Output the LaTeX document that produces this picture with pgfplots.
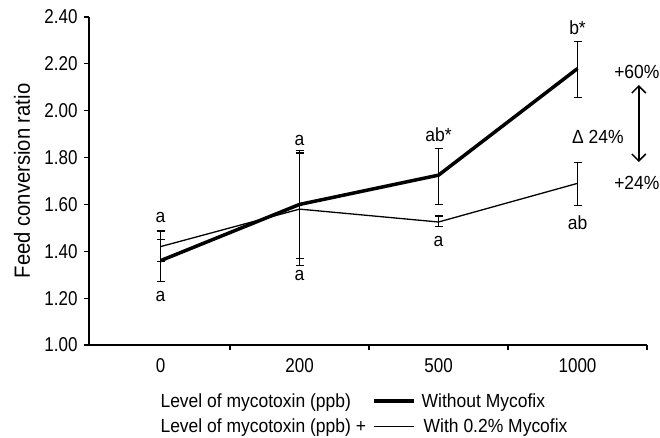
\documentclass[border=0pt]{standalone}
\usepackage{fontspec}
\setmainfont{Liberation Sans}[FakeStretch=0.92]
\newfontfamily\tickfont{Liberation Sans}[FakeStretch=0.85]
\usepackage{pgfplots}
\pgfplotsset{compat=1.18}
\usetikzlibrary{arrows.meta}
\begin{document}
\fontsize{19pt}{22pt}\selectfont
\begin{tikzpicture}
\path[use as bounding box] (-89pt,-92pt) rectangle (571pt,345pt);
\begin{axis}[
  at={(0,0)}, anchor=south west,
  scale only axis, width=558pt, height=328pt,
  xmin=-0.515, xmax=3.5, ymin=1, ymax=2.4,
  axis x line*=bottom, axis y line*=left,
  xtick pos=left, ytick pos=left,
  axis line style={line width=1.5pt},
  tick align=outside,
  tick style={black, line width=1.2pt},
  xtick={0.5,1.5,2.5,3.5}, xticklabels={},
  major tick length=5pt,
  extra x ticks={0,1,2,3}, extra x tick labels={0,200,500,1000},
  extra x tick style={major tick length=0pt},
  ytick={1,1.2,...,2.41},
  /pgf/number format/assume math mode=true,
  tick label style={font=\tickfont\fontsize{20pt}{24pt}\selectfont},
  yticklabel style={/pgf/number format/.cd, fixed, fixed zerofill, precision=2},
  xticklabel style={yshift=-7pt},
  ylabel={\fontsize{22pt}{26pt}\selectfont Feed conversion ratio},
  every axis y label/.style={at={([xshift=-67pt]axis description cs:0,0.5)}, rotate=90, anchor=center},
  clip=false,
  legend style={at={([xshift=283pt,yshift=-47.5pt]axis description cs:0,0)}, anchor=north west,
    draw=none, fill=none, inner sep=0pt, row sep=8pt,
    nodes={inner sep=2pt, text height=13pt, text depth=0pt, anchor=west}},
  legend image code/.code={\draw[#1] (0pt,0pt) -- (40pt,0pt);},
]
\addplot[black, line width=3.5pt, no markers,
  error bars/.cd, y dir=both, y explicit,
  error bar style={line width=1.3pt},
  error mark options={line width=1.3pt, mark size=4pt, rotate=90}]
coordinates {
 (0,1.36) += (0,0.09) -= (0,0.09)
 (1,1.60) += (0,0.23) -= (0,0.23)
 (2,1.725) += (0,0.115) -= (0,0.125)
 (3,2.18) += (0,0.115) -= (0,0.125)
};
\addlegendentry{\hspace{4pt}Without Mycofix}
\addplot[black, line width=1.3pt, no markers,
  error bars/.cd, y dir=both, y explicit,
  error bar style={line width=1.3pt},
  error mark options={line width=1.3pt, mark size=4pt, rotate=90}]
coordinates {
 (0,1.42) += (0,0.067) -= (0,0.065)
 (1,1.58) += (0,0.24) -= (0,0.24)
 (2,1.525) += (0,0.025) -= (0,0.02)
 (3,1.69) += (0,0.09) -= (0,0.095)
};
\addlegendentry{\hspace{6pt}With 0.2\% Mycofix}
\node at (axis cs:0,1.546) {a};
\node at (axis cs:0,1.205) {a};
\node at (axis cs:1,1.875) {a};
\node at (axis cs:1,1.295) {a};
\node at (axis cs:2,1.896) {ab*};
\node at (axis cs:2,1.44) {a};
\node at (axis cs:3,2.353) {b*};
\node at (axis cs:3,1.52) {ab};
\node at (axis cs:3.427,2.165) {+60\%};
\node at (axis cs:3.146,1.888) {Δ 24\%};
\node at (axis cs:3.427,1.691) {+24\%};
\draw[{Straight Barb[length=7pt,width=14pt]}-{Straight Barb[length=7pt,width=14pt]}, line width=1.5pt]
  (axis cs:3.441,2.11) -- (axis cs:3.441,1.781);
\node[anchor=west, text height=13pt, text depth=0pt] at ([xshift=65pt,yshift=-56pt]axis description cs:0,0) {Level of mycotoxin (ppb)};
\node[anchor=west, text height=13pt, text depth=0pt] at ([xshift=65pt,yshift=-81pt]axis description cs:0,0) {Level of mycotoxin (ppb) +};
\end{axis}
\end{tikzpicture}
\end{document}
